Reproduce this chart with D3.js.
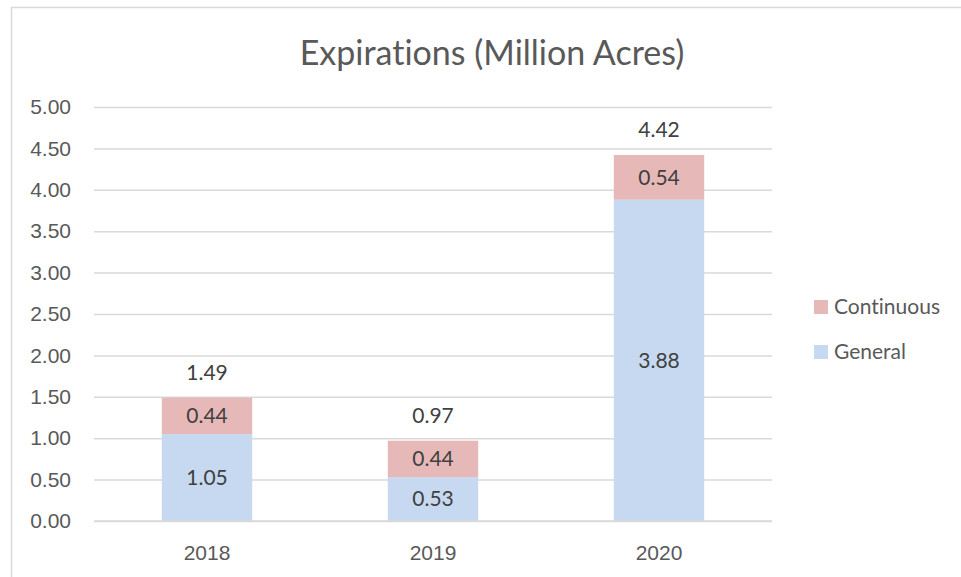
<!DOCTYPE html>
<html>
<head>
<meta charset="utf-8">
<script src="https://cdn.jsdelivr.net/npm/d3@7"></script>
<style>
  body { margin: 0; background: #fff; }
  svg { display: block; font-family: Lato, "Open Sans", sans-serif; font-variant-ligatures: none; }
</style>
</head>
<body>
<svg id="chart" width="961" height="577"></svg>
<script>
const years = ["2018", "2019", "2020"];
const general = [1.05, 0.53, 3.88];
const continuous = [0.44, 0.44, 0.54];
const totals = [1.49, 0.97, 4.42];
const yTicks = [0, 0.5, 1, 1.5, 2, 2.5, 3, 3.5, 4, 4.5, 5];
const seriesNames = ["Continuous", "General"];
const seriesColors = ["#e6b9b8", "#c6d9f0"];

const width = 961, height = 577;
const plot = {left: 94, right: 772, top: 107, bottom: 521};
const textColor = "#595959", gridColor = "#d9d9d9";

const svg = d3.select("#chart");

// chart frame (cut off at right and bottom like the source)
svg.append("path")
    .attr("d", `M11.5,${height} V7.5 H${width}`)
    .attr("fill", "none")
    .attr("stroke", gridColor)
    .attr("stroke-width", 1.5);

const x = d3.scaleBand()
    .domain(years)
    .range([plot.left, plot.right])
    .paddingInner(0.6)
    .paddingOuter(0.3);

const y = d3.scaleLinear()
    .domain([0, 5])
    .range([plot.bottom, plot.top]);

// gridlines + y labels
const yAxis = d3.axisLeft(y)
    .tickValues(yTicks)
    .tickFormat(d3.format(".2f"))
    .tickSize(-(plot.right - plot.left))
    .tickPadding(23);

const gy = svg.append("g")
    .attr("transform", `translate(${plot.left},0)`)
    .call(yAxis);
gy.select(".domain").remove();
gy.selectAll(".tick line").attr("stroke", gridColor).attr("stroke-width", 1.5);
gy.selectAll(".tick text")
    .attr("fill", textColor)
    .style("font-size", "21px");

// stacked data
const rows = years.map((yr, i) => ({year: yr, General: general[i], Continuous: continuous[i], total: totals[i]}));
const stack = d3.stack().keys(["General", "Continuous"]);
const layers = stack(rows);
const color = d3.scaleOrdinal().domain(seriesNames).range(seriesColors);

const gBars = svg.append("g");
layers.forEach(layer => {
  gBars.selectAll(null)
      .data(layer)
      .enter().append("rect")
      .attr("x", d => x(d.data.year))
      .attr("width", x.bandwidth())
      .attr("y", d => y(d[1]))
      .attr("height", d => y(d[0]) - y(d[1]))
      .attr("fill", color(layer.key));

  gBars.selectAll(null)
      .data(layer)
      .enter().append("text")
      .attr("x", d => x(d.data.year) + x.bandwidth() / 2)
      .attr("y", d => (y(d[0]) + y(d[1])) / 2)
      .attr("dy", "0.35em")
      .attr("text-anchor", "middle")
      .attr("fill", "#404040")
      .style("font-size", "21px")
      .text(d => d3.format(".2f")(d.data[layer.key]));
});

// totals above bars
svg.append("g").selectAll("text")
    .data(rows)
    .enter().append("text")
    .attr("x", d => x(d.year) + x.bandwidth() / 2)
    .attr("y", d => y(d.total) - 25)
    .attr("dy", "0.35em")
    .attr("text-anchor", "middle")
    .attr("fill", "#404040")
    .style("font-size", "21px")
    .text(d => d3.format(".2f")(d.total));

// baseline
svg.append("line")
    .attr("x1", plot.left).attr("x2", plot.right)
    .attr("y1", y(0)).attr("y2", y(0))
    .attr("stroke", gridColor).attr("stroke-width", 1.5);

// x labels
const xAxis = d3.axisBottom(x).tickSize(0).tickPadding(24);
const gx = svg.append("g")
    .attr("transform", `translate(0,${plot.bottom})`)
    .call(xAxis);
gx.select(".domain").remove();
gx.selectAll(".tick text")
    .attr("fill", textColor)
    .style("font-size", "21px");

// title
svg.append("text")
    .attr("x", 492)
    .attr("y", 65)
    .attr("text-anchor", "middle")
    .attr("fill", textColor)
    .style("font-size", "34px")
    .text("Expirations (Million Acres)");

// legend
const legend = svg.append("g")
    .selectAll("g")
    .data(seriesNames)
    .enter().append("g")
    .attr("transform", (d, i) => `translate(814,${300 + i * 45})`);
legend.append("rect")
    .attr("width", 14).attr("height", 14)
    .attr("fill", d => color(d));
legend.append("text")
    .attr("x", 20)
    .attr("y", 7)
    .attr("dy", "0.35em")
    .attr("fill", textColor)
    .style("font-size", "21px")
    .text(d => d);
</script>
</body>
</html>
